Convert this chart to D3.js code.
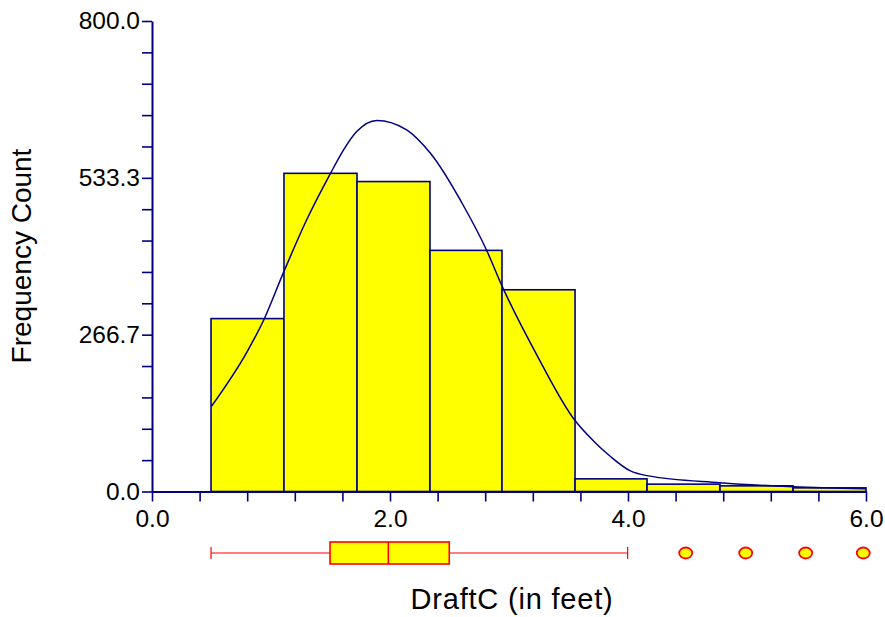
<!DOCTYPE html>
<html>
<head>
<meta charset="utf-8">
<script src="https://cdnjs.cloudflare.com/ajax/libs/d3/7.8.5/d3.min.js"></script>
<style>
  body { margin: 0; background: #fff; }
  text { font-family: 'Liberation Sans', Arial, sans-serif; }
</style>
</head>
<body>
<div id="chart"></div>
<script>
// histogram bins (edges in feet) and counts
var binEdges = [0.496, 1.109, 1.723, 2.336, 2.941, 3.555, 4.160, 4.773, 5.387, 6.0];
var binCounts = [294, 541, 527, 410, 343, 21.5, 12.5, 9.6, 6.2];

// density curve (x in feet, y in counts)
var curveX = [0.50, 0.80, 0.94, 1.10, 1.30, 1.50, 1.61, 1.72, 1.89, 2.14, 2.34, 2.62, 2.81, 2.94, 3.25, 3.55, 3.71, 3.85, 4.02, 4.16, 4.77, 5.39, 6.0];
var curveY = [145, 238, 292, 370, 462, 541, 581, 612, 631, 615, 575, 485, 411, 350, 226, 122, 86, 60, 35, 27, 15, 8, 4.5];

// box plot summary
var boxStats = { low: 0.496, q1: 1.496, median: 1.986, q3: 2.498, high: 3.997 };
var outliers = [4.485, 4.989, 5.493, 5.977];

// axes
var xTicks = d3.range(0, 16).map(function(i) { return i * 0.4; });
var xLabels = [0, 2, 4, 6];
var yTicks = d3.range(0, 16).map(function(i) { return i * 800 / 15; });
var yLabels = [0, 800 / 3, 1600 / 3, 800];

var width = 885;
var height = 617;
var navy = '#000080';

var svg = d3.select('#chart').append('svg')
  .attr('width', width)
  .attr('height', height);

var xScale = d3.scaleLinear()
  .domain([0, 6])
  .range([152, 866]);

var yScale = d3.scaleLinear()
  .domain([0, 800])
  .range([491.5, 21]);

function isLabel(list, v) {
  return list.some(function(l) { return Math.abs(l - v) < 1e-6; });
}

// bars
var bins = binCounts.map(function(c, i) {
  return { x0: binEdges[i], x1: binEdges[i + 1], count: c };
});

svg.selectAll('.bar')
  .data(bins)
  .enter()
  .append('rect')
  .attr('class', 'bar')
  .attr('x', function(d) { return xScale(d.x0); })
  .attr('y', function(d) { return yScale(d.count); })
  .attr('width', function(d) { return xScale(d.x1) - xScale(d.x0); })
  .attr('height', function(d) { return yScale(0) - yScale(d.count); })
  .style('fill', '#ffff00')
  .style('stroke', navy)
  .style('stroke-width', 1.6);

// density line
var line = d3.line()
  .x(function(d) { return xScale(d[0]); })
  .y(function(d) { return yScale(d[1]); })
  .curve(d3.curveMonotoneX);

svg.append('path')
  .datum(curveX.map(function(x, i) { return [x, curveY[i]]; }))
  .attr('d', line)
  .style('fill', 'none')
  .style('stroke', navy)
  .style('stroke-width', 1.5);

// y axis
var yAxis = d3.axisLeft(yScale)
  .tickValues(yTicks)
  .tickSize(10)
  .tickSizeOuter(0)
  .tickPadding(2)
  .tickFormat(function(d) { return isLabel(yLabels, d) ? d3.format('.1f')(d) : ''; });

var gy = svg.append('g')
  .attr('transform', 'translate(' + xScale(0) + ',0)')
  .call(yAxis);

// x axis
var xAxis = d3.axisBottom(xScale)
  .tickValues(xTicks)
  .tickSize(10)
  .tickSizeOuter(0)
  .tickPadding(8)
  .tickFormat(function(d) { return isLabel(xLabels, d) ? d3.format('.1f')(d) : ''; });

var gx = svg.append('g')
  .attr('transform', 'translate(0,' + yScale(0) + ')')
  .call(xAxis);

[gx, gy].forEach(function(g) {
  g.select('.domain').style('stroke', navy).style('stroke-width', 2);
  g.selectAll('.tick line').style('stroke', navy).style('stroke-width', 1.6);
  g.selectAll('.tick text')
    .style('font-family', "'Liberation Sans', Arial, sans-serif")
    .style('font-size', '24.5px')
    .style('fill', '#000');
});

// box plot
var boxY = 553;
var boxH = 22;
var red = '#ff0000';

svg.append('line')
  .attr('x1', xScale(boxStats.low))
  .attr('x2', xScale(boxStats.q1))
  .attr('y1', boxY)
  .attr('y2', boxY)
  .style('stroke', red)
  .style('stroke-width', 1.2);

svg.append('line')
  .attr('x1', xScale(boxStats.q3))
  .attr('x2', xScale(boxStats.high))
  .attr('y1', boxY)
  .attr('y2', boxY)
  .style('stroke', red)
  .style('stroke-width', 1.2);

[boxStats.low, boxStats.high].forEach(function(v) {
  svg.append('line')
    .attr('x1', xScale(v))
    .attr('x2', xScale(v))
    .attr('y1', boxY - 6)
    .attr('y2', boxY + 6)
    .style('stroke', red)
    .style('stroke-width', 1.2);
});

svg.append('rect')
  .attr('x', xScale(boxStats.q1))
  .attr('y', boxY - boxH / 2)
  .attr('width', xScale(boxStats.q3) - xScale(boxStats.q1))
  .attr('height', boxH)
  .style('fill', '#ffff00')
  .style('stroke', red)
  .style('stroke-width', 1.6);

svg.append('line')
  .attr('x1', xScale(boxStats.median))
  .attr('x2', xScale(boxStats.median))
  .attr('y1', boxY - boxH / 2)
  .attr('y2', boxY + boxH / 2)
  .style('stroke', red)
  .style('stroke-width', 1.6);

svg.selectAll('.outlier')
  .data(outliers)
  .enter()
  .append('ellipse')
  .attr('class', 'outlier')
  .attr('cx', function(d) { return xScale(d); })
  .attr('cy', boxY)
  .attr('rx', 6.5)
  .attr('ry', 5.5)
  .style('fill', '#ffff00')
  .style('stroke', red)
  .style('stroke-width', 1.8);

// axis titles
svg.append('text')
  .attr('transform', 'translate(31,256) rotate(-90)')
  .attr('text-anchor', 'middle')
  .style('font-size', '28px')
  .text('Frequency Count');

svg.append('text')
  .attr('x', 512)
  .attr('y', 609)
  .attr('text-anchor', 'middle')
  .style('font-size', '29px')
  .style('letter-spacing', '0.8px')
  .text('DraftC (in feet)');
</script>
</body>
</html>
